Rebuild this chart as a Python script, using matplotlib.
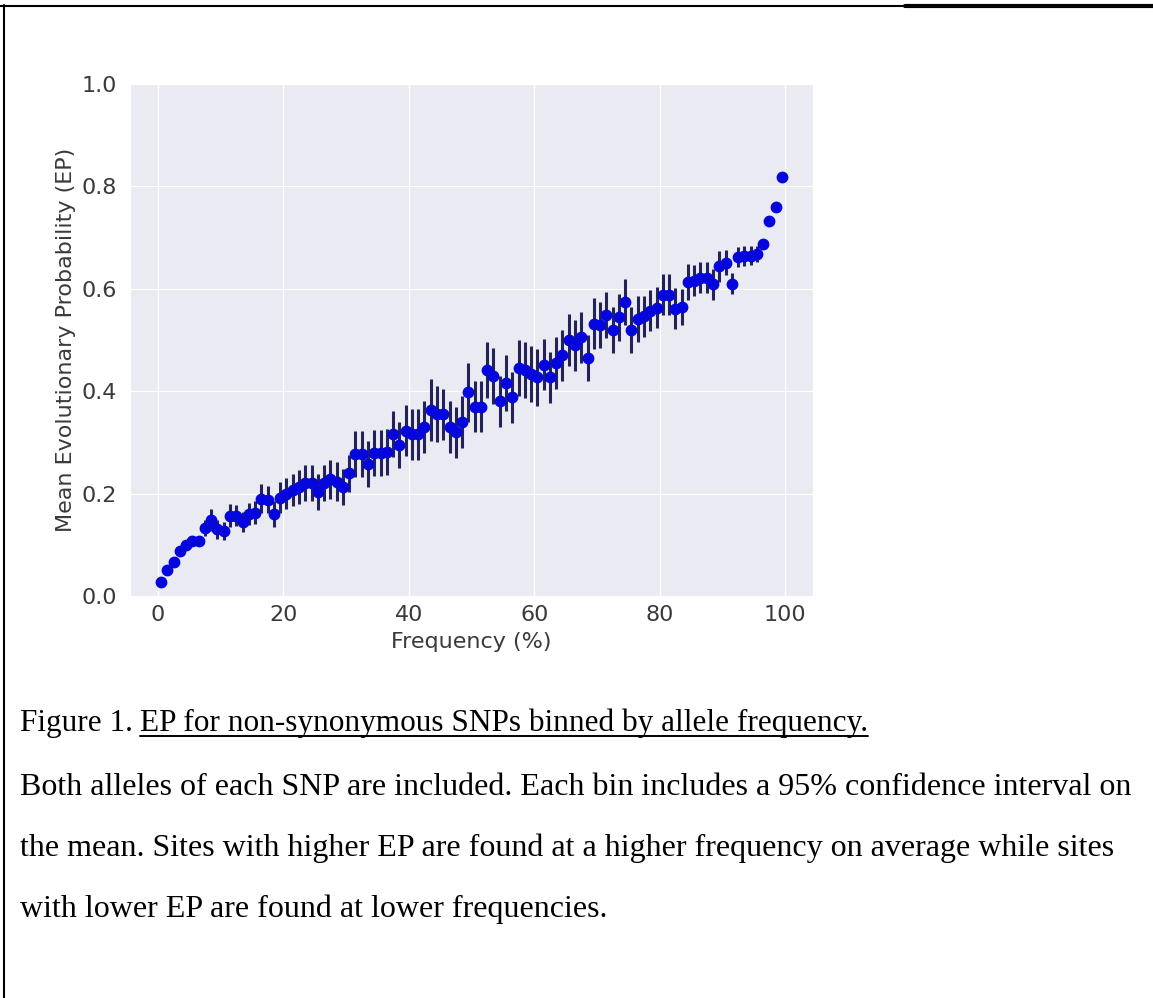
import numpy as np
import matplotlib
matplotlib.use("Agg")
import matplotlib.pyplot as plt
import seaborn as sns
from matplotlib.lines import Line2D

# 1%-wide allele frequency bins (bin centres)
FREQ = np.arange(0.5, 100.0, 1.0)

MEAN_EP = [
    0.027, 0.050, 0.066, 0.088, 0.100, 0.107, 0.107, 0.133, 0.148, 0.130,
    0.127, 0.157, 0.157, 0.145, 0.160, 0.163, 0.190, 0.188, 0.160, 0.192,
    0.200, 0.207, 0.213, 0.220, 0.220, 0.203, 0.220, 0.228, 0.223, 0.213,
    0.240, 0.277, 0.278, 0.257, 0.280, 0.280, 0.282, 0.316, 0.295, 0.323,
    0.316, 0.316, 0.330, 0.363, 0.355, 0.355, 0.330, 0.320, 0.340, 0.398,
    0.370, 0.370, 0.441, 0.430, 0.380, 0.416, 0.388, 0.445, 0.441, 0.434,
    0.427, 0.452, 0.427, 0.455, 0.470, 0.500, 0.490, 0.505, 0.465, 0.532,
    0.529, 0.548, 0.519, 0.544, 0.574, 0.519, 0.541, 0.546, 0.557, 0.563,
    0.588, 0.588, 0.561, 0.564, 0.614, 0.616, 0.622, 0.622, 0.609, 0.644,
    0.651, 0.610, 0.662, 0.664, 0.665, 0.668, 0.687, 0.732, 0.759, 0.819,
]

# half-width of the 95% CI per bin
CI_HALF = [
    0.004, 0.004, 0.005, 0.006, 0.007, 0.008, 0.010, 0.015, 0.022, 0.018,
    0.018, 0.022, 0.020, 0.020, 0.022, 0.022, 0.028, 0.026, 0.025, 0.030,
    0.030, 0.032, 0.033, 0.035, 0.035, 0.035, 0.035, 0.038, 0.038, 0.035,
    0.036, 0.045, 0.045, 0.045, 0.045, 0.045, 0.045, 0.045, 0.045, 0.050,
    0.050, 0.050, 0.050, 0.060, 0.055, 0.050, 0.050, 0.050, 0.050, 0.058,
    0.050, 0.050, 0.055, 0.055, 0.050, 0.055, 0.050, 0.055, 0.055, 0.055,
    0.055, 0.050, 0.050, 0.050, 0.050, 0.050, 0.050, 0.050, 0.045, 0.050,
    0.045, 0.045, 0.045, 0.045, 0.045, 0.045, 0.045, 0.040, 0.040, 0.040,
    0.040, 0.040, 0.040, 0.035, 0.035, 0.030, 0.030, 0.030, 0.030, 0.030,
    0.025, 0.020, 0.020, 0.020, 0.018, 0.015, 0.010, 0.004, 0.004, 0.004,
]

X_TICKS = [0, 20, 40, 60, 80, 100]
Y_TICKS = [0.0, 0.2, 0.4, 0.6, 0.8, 1.0]

CAPTION_HEAD = "Figure 1. "
CAPTION_TITLE = "EP for non-synonymous SNPs binned by allele frequency."
CAPTION_BODY = [
    "Both alleles of each SNP are included. Each bin includes a 95% confidence interval on",
    "the mean. Sites with higher EP are found at a higher frequency on average while sites",
    "with lower EP are found at lower frequencies.",
]

W, H = 1153, 998


def main():
    sns.set_style("darkgrid")
    plt.rcParams["font.family"] = ["DejaVu Sans"]

    fig = plt.figure(figsize=(W / 100, H / 100), dpi=100)
    fig.patch.set_facecolor("white")

    left, top, right, bottom = 130, 84, 813, 596
    ax = fig.add_axes([left / W, 1 - bottom / H, (right - left) / W, (bottom - top) / H])
    ax.errorbar(FREQ, MEAN_EP, yerr=CI_HALF, fmt="o", color="#0505dd",
                markersize=7.5, ecolor="#23235a", elinewidth=2.2, capsize=0)
    ax.set_xlim(-4.45, 104.45)
    ax.set_ylim(0, 1.0)
    ax.set_xticks(X_TICKS)
    ax.set_yticks(Y_TICKS)
    ax.tick_params(labelsize=16, labelcolor="#3a3a3a")
    ax.tick_params(axis="x", pad=3)
    ax.tick_params(axis="y", pad=6)
    ax.set_xlabel("Frequency (%)", fontsize=16, color="#3a3a3a", labelpad=5)
    ax.set_ylabel("Mean Evolutionary Probability (EP)", fontsize=16,
                  color="#3a3a3a", labelpad=4)

    # caption in a serif face, title part underlined
    serif = ["Liberation Serif", "DejaVu Serif"]
    fs = 23
    fs_head = 22.5
    y0 = 1 - 731 / H
    t1 = fig.text(20 / W, y0, CAPTION_HEAD, fontsize=fs_head, family=serif,
                  color="black", va="baseline")
    renderer = fig.canvas.get_renderer()
    bb1 = t1.get_window_extent(renderer)
    t2 = fig.text((bb1.x1 - 1) / W, y0, CAPTION_TITLE, fontsize=fs_head, family=serif,
                  color="black", va="baseline")
    bb2 = t2.get_window_extent(renderer)
    uy = 1 - 736 / H
    fig.add_artist(Line2D([bb2.x0 / W, bb2.x1 / W], [uy, uy], color="black", lw=1.4))

    for line, yb in zip(CAPTION_BODY, [795, 856, 917]):
        fig.text(20 / W, 1 - yb / H, line, fontsize=fs, family=serif,
                 color="black", va="baseline")

    # frame lines of the original document box
    fig.add_artist(Line2D([0, 905 / W], [1 - 6 / H] * 2, color="black", lw=1.5))
    fig.add_artist(Line2D([905 / W, 1], [1 - 6 / H] * 2, color="black", lw=3))
    fig.add_artist(Line2D([4 / W, 4 / W], [0, 1 - 5 / H], color="black", lw=1.5))

    fig.savefig("out.png", dpi=100, facecolor="white")
    print("Saved out.png")


if __name__ == "__main__":
    main()
